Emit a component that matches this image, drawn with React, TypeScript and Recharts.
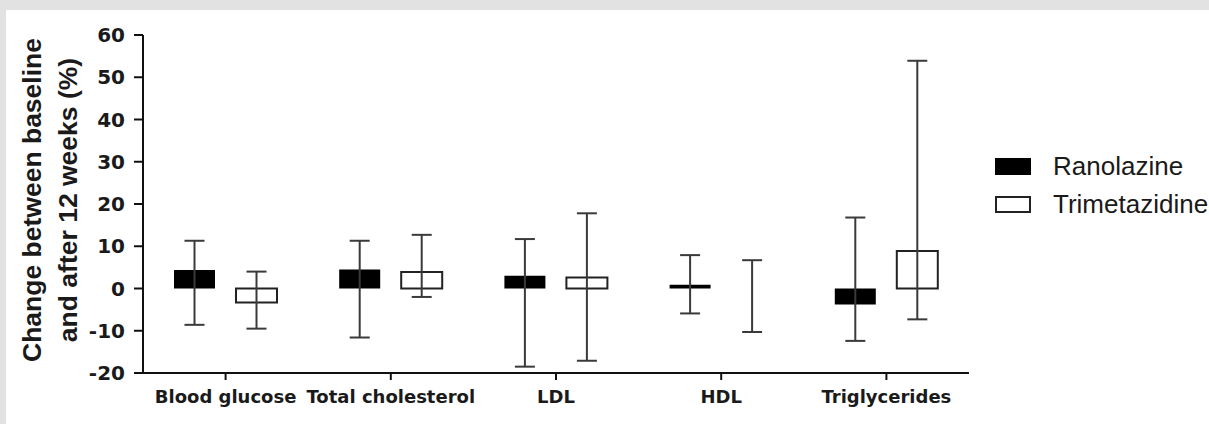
import { Bar, BarChart, Cell, ErrorBar, Legend, XAxis, YAxis } from 'recharts'

const categories = ['Blood glucose', 'Total cholesterol', 'LDL', 'HDL', 'Triglycerides']
const ranolazine = [4.4, 4.5, 3.0, 0.9, -3.8]
const ranolazineLow = [-8.6, -11.6, -18.5, -5.9, -12.4]
const ranolazineHigh = [11.3, 11.3, 11.7, 7.9, 16.8]
const trimetazidine = [-3.3, 3.9, 2.6, 0.01, 8.9]
const trimetazidineLow = [-9.5, -2.0, -17.1, -10.3, -7.3]
const trimetazidineHigh = [4.0, 12.7, 17.8, 6.7, 53.9]
const yTicks = [-20, -10, 0, 10, 20, 30, 40, 50, 60]

const data = categories.map((name, i) => ({
  name,
  ranolazine: ranolazine[i],
  ranolazineErr: [ranolazine[i] - ranolazineLow[i], ranolazineHigh[i] - ranolazine[i]],
  trimetazidine: trimetazidine[i],
  trimetazidineErr: [trimetazidine[i] - trimetazidineLow[i], trimetazidineHigh[i] - trimetazidine[i]],
}))

const legendRows = [
  { label: 'Ranolazine', fill: '#000', border: '#000' },
  { label: 'Trimetazidine', fill: '#fff', border: '#222' },
]

function LegendBox() {
  return (
    <div style={{ fontFamily: '"Liberation Sans", Arial, sans-serif', fontSize: 26, color: '#1a1a1a' }}>
      {legendRows.map((row) => (
        <div key={row.label} style={{ display: 'flex', alignItems: 'center', height: 38, whiteSpace: 'nowrap' }}>
          <span
            style={{
              display: 'inline-block',
              width: 36,
              height: 17,
              background: row.fill,
              border: `2px solid ${row.border}`,
              boxSizing: 'border-box',
              marginRight: 22,
            }}
          />
          <span>{row.label}</span>
        </div>
      ))}
    </div>
  )
}

function YTitle() {
  const style = { fontFamily: '"Liberation Sans", Arial, sans-serif', fontSize: 26.5, fontWeight: 'bold', fill: '#1a1a1a' }
  return (
    <g>
      <text transform="rotate(-90)" x={-190} y={35} textAnchor="middle" style={style}>
        Change between baseline
      </text>
      <text transform="rotate(-90)" x={-190} y={71} textAnchor="middle" style={style}>
        and after 12 weeks (%)
      </text>
    </g>
  )
}

const tickFont = { fontFamily: '"DejaVu Sans", sans-serif', fontWeight: 'bold', fill: '#1a1a1a' }

export default function App() {
  return (
    <div style={{ width: 1209, height: 424, background: '#e2e2e2', position: 'relative', overflow: 'hidden' }}>
      <style>{'body{margin:0}'}</style>
      <div style={{ position: 'absolute', left: 6, top: 10, width: 1203, height: 414, background: '#fff' }}>
        <BarChart
          width={1203}
          height={414}
          data={data}
          margin={{ top: 25, right: 240, left: 77, bottom: 6 }}
          barSize={41}
          barGap={21}
        >
          <XAxis
            dataKey="name"
            interval={0}
            tickSize={7}
            tickMargin={10}
            height={45}
            axisLine={{ stroke: '#111', strokeWidth: 2 }}
            tickLine={{ stroke: '#111', strokeWidth: 2 }}
            tick={{ ...tickFont, fontSize: 18 }}
          />
          <YAxis
            domain={[-20, 60]}
            ticks={yTicks}
            allowDataOverflow
            width={60}
            tickSize={9}
            tickMargin={9}
            axisLine={{ stroke: '#111', strokeWidth: 2 }}
            tickLine={{ stroke: '#111', strokeWidth: 2 }}
            tick={{ ...tickFont, fontSize: 20 }}
            label={{ content: () => <YTitle /> }}
          />
          <Legend
            layout="vertical"
            align="center"
            verticalAlign="middle"
            wrapperStyle={{ left: 989, top: 137, width: 230 }}
            content={() => <LegendBox />}
          />
          <Bar dataKey="ranolazine" name="Ranolazine" fill="#000" isAnimationActive={false}>
            <ErrorBar dataKey="ranolazineErr" width={10} stroke="#3a3a3a" strokeWidth={2} isAnimationActive={false} />
          </Bar>
          <Bar
            dataKey="trimetazidine"
            name="Trimetazidine"
            fill="#fff"
            stroke="#222"
            strokeWidth={2}
            isAnimationActive={false}
          >
            {trimetazidine.map((v, i) => (
              <Cell key={categories[i]} stroke={Math.abs(v) < 0.1 ? 'none' : '#222'} />
            ))}
            <ErrorBar dataKey="trimetazidineErr" width={10} stroke="#3a3a3a" strokeWidth={2} isAnimationActive={false} />
          </Bar>
        </BarChart>
      </div>
    </div>
  )
}
